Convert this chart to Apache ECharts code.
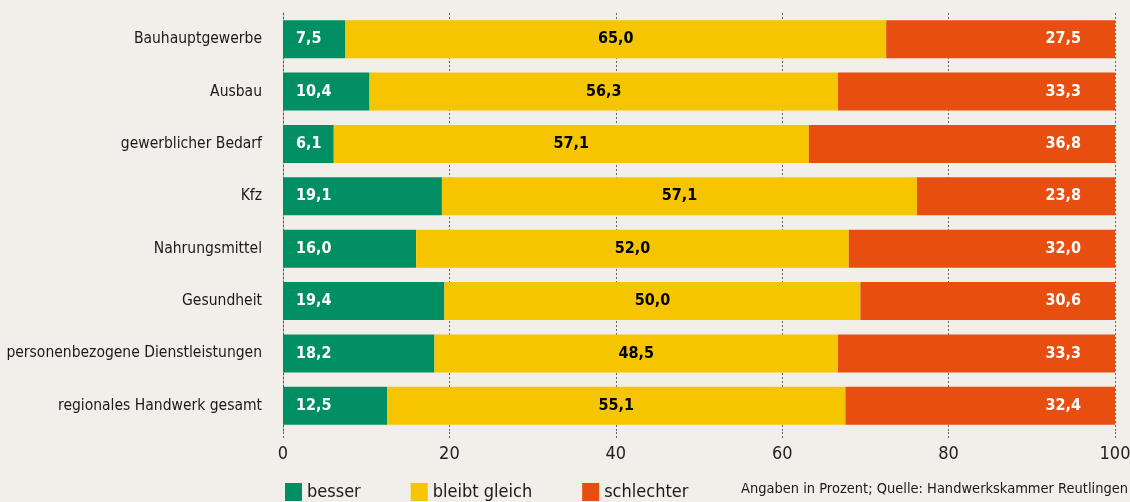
<!DOCTYPE html>
<html><head><meta charset="utf-8">
<script src="https://cdn.jsdelivr.net/npm/echarts@6/dist/echarts.min.js"></script>
<style>html,body{margin:0;padding:0;background:#f2eeea;}#c{width:1130px;height:502px;}</style>
</head><body><div id="c"></div>
<script>
const categories = ["Bauhauptgewerbe","Ausbau","gewerblicher Bedarf","Kfz","Nahrungsmittel","Gesundheit","personenbezogene Dienstleistungen","regionales Handwerk gesamt"];
const besser = [7.5,10.4,6.1,19.1,16.0,19.4,18.2,12.5];
const gleich = [65.0,56.3,57.1,57.1,52.0,50.0,48.5,55.1];
const schlechter = [27.5,33.3,36.8,23.8,32.0,30.6,33.3,32.4];
const seriesNames = ["besser","bleibt gleich","schlechter"];
const xTicks = [0,20,40,60,80,100];
const sourceText = "Angaben in Prozent; Quelle: Handwerkskammer Reutlingen";

const FONT = "'Liberation Sans Narrow','DejaVu Sans Condensed','Roboto Condensed',sans-serif";
const fmt = p => p.value.toFixed(1).replace('.', ',');
const chart = echarts.init(document.getElementById('c'));
function mk(name, data, color, labelColor, pos, dist){
  return {name, type:'bar', stack:'a', data, barWidth:38,
    itemStyle:{color},
    label:{show:true, position:pos, distance:dist, formatter:fmt, color:labelColor,
      fontFamily:FONT, fontSize:16, fontWeight:'bold'}};
}
chart.setOption({
  backgroundColor:'#f2eeea',
  textStyle:{fontFamily:FONT},
  animation:false,
  grid:{left:283, right:15, top:13, bottom:70, containLabel:false, outerBoundsMode:'none'},
  xAxis:{type:'value', min:xTicks[0], max:xTicks[xTicks.length-1], interval:20,
    axisLine:{show:false},
    axisTick:{show:true, length:8, lineStyle:{type:[2,2], color:'#666'}},
    axisLabel:{color:'#222', fontSize:18, fontFamily:FONT, margin:13},
    splitLine:{show:true, lineStyle:{type:[2,2], color:'#666', width:1}}},
  yAxis:{type:'category', data:categories, inverse:true,
    axisLine:{show:true, lineStyle:{type:[2,2], color:'#555'}},
    axisTick:{show:false},
    axisLabel:{color:'#1a1a1a', fontSize:15.5, fontFamily:FONT, margin:21}},
  legend:{left:280, top:478, itemWidth:17, itemHeight:18, itemGap:50,
    icon:'rect', textStyle:{fontSize:18, color:'#1a1a1a', fontFamily:FONT},
    data:seriesNames},
  graphic:[{type:'text', right:2, top:482, style:{text:sourceText, fontSize:14.5, fill:'#1a1a1a', fontFamily:FONT}}],
  series:[
    mk(seriesNames[0], besser, '#008f63', '#ffffff', 'insideLeft', 13),
    mk(seriesNames[1], gleich, '#f5c600', '#000000', 'inside', 0),
    mk(seriesNames[2], schlechter, '#e84e0f', '#ffffff', 'insideRight', 34)
  ]
});
</script></body></html>
